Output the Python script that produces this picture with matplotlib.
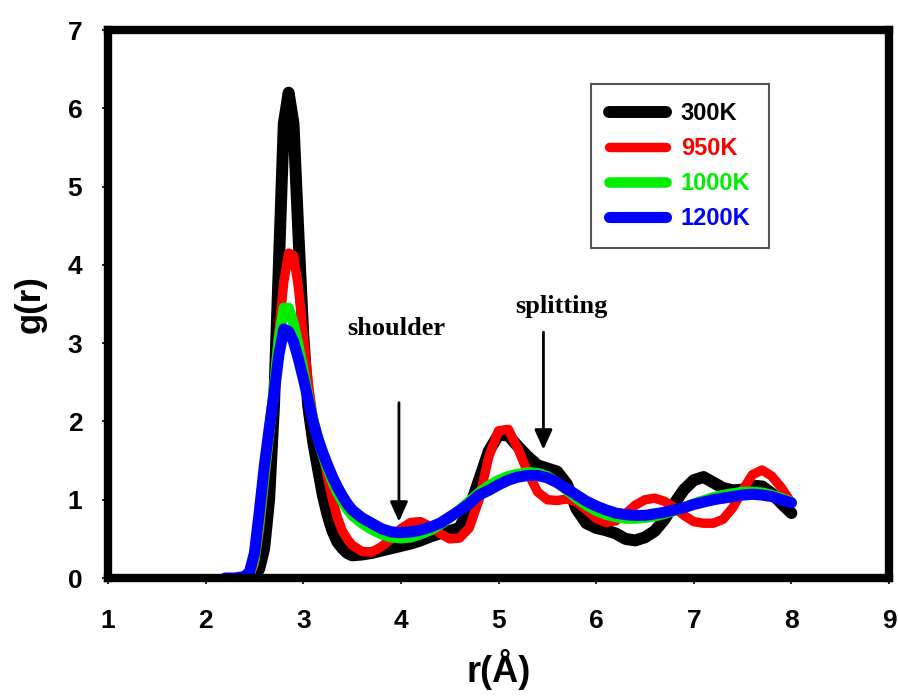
import numpy as np
import matplotlib
matplotlib.use("Agg")
from matplotlib import pyplot as plt

# radial grid (Angstrom): finer steps across the first peak
r = np.round(np.concatenate([np.arange(2.2, 2.35, 0.1),
                             np.arange(2.4, 3.47, 0.05),
                             np.arange(3.5, 8.01, 0.1)]), 2)

g_300 = [np.nan, np.nan, 0.0, 0.0, 0.02, 0.12, 0.38, 1.0, 2.2, 4.0, 5.8, 6.2,
         5.8, 4.4, 3.1, 2.2, 1.75, 1.4, 1.06, 0.8, 0.6, 0.46, 0.38, 0.32,
         0.29, 0.3, 0.32, 0.35, 0.38, 0.41, 0.44, 0.48, 0.53, 0.57, 0.6, 0.64,
         0.88, 1.25, 1.62, 1.83, 1.82, 1.68, 1.55, 1.44, 1.4, 1.36, 1.2, 0.88,
         0.7, 0.64, 0.61, 0.57, 0.5, 0.48, 0.52, 0.6, 0.75, 0.95, 1.13, 1.25,
         1.29, 1.22, 1.15, 1.12, 1.13, 1.18, 1.17, 1.08, 0.95, 0.83]

g_950 = [np.nan, 0.0, 0.0, 0.03, 0.18, 0.6, 1.2, 1.8, 2.45, 3.15, 3.78, 4.15,
         4.12, 3.72, 3.1, 2.5, 2.05, 1.8, 1.6, 1.28, 1.0, 0.77, 0.6, 0.5,
         0.42, 0.34, 0.33, 0.4, 0.5, 0.63, 0.71, 0.72, 0.66, 0.57, 0.5, 0.51,
         0.64, 1.0, 1.55, 1.88, 1.9, 1.65, 1.35, 1.1, 1.0, 0.99, 1.01, 0.97,
         0.87, 0.76, 0.71, 0.73, 0.82, 0.93, 1.0, 1.02, 0.98, 0.9, 0.8, 0.72,
         0.7, 0.7, 0.75, 0.9, 1.12, 1.32, 1.38, 1.3, 1.15, 0.96]

g_1000 = [np.nan, 0.0, 0.0, 0.05, 0.25, 0.72, 1.3, 1.85, 2.42, 3.05, 3.45, 3.45,
          3.25, 2.97, 2.65, 2.33, 2.03, 1.78, 1.57, 1.39, 1.23, 1.09, 0.98, 0.88,
          0.8, 0.7, 0.62, 0.56, 0.52, 0.51, 0.52, 0.56, 0.61, 0.68, 0.77, 0.87,
          0.98, 1.09, 1.18, 1.25, 1.3, 1.33, 1.35, 1.34, 1.3, 1.22, 1.12, 1.02,
          0.93, 0.86, 0.81, 0.78, 0.76, 0.76, 0.77, 0.79, 0.82, 0.86, 0.9, 0.95,
          0.99, 1.03, 1.06, 1.08, 1.1, 1.1, 1.09, 1.06, 1.02, 0.97]

g_1200 = [0.0, 0.0, 0.02, 0.08, 0.32, 0.85, 1.42, 1.9, 2.35, 2.85, 3.18, 3.15,
          3.02, 2.8, 2.55, 2.28, 2.0, 1.78, 1.6, 1.44, 1.29, 1.16, 1.05, 0.95,
          0.87, 0.77, 0.7, 0.63, 0.59, 0.58, 0.59, 0.61, 0.65, 0.7, 0.78, 0.86,
          0.95, 1.06, 1.12, 1.19, 1.25, 1.29, 1.31, 1.31, 1.28, 1.22, 1.14, 1.06,
          0.98, 0.92, 0.87, 0.83, 0.81, 0.8, 0.8, 0.82, 0.84, 0.87, 0.9, 0.94,
          0.97, 1.0, 1.02, 1.04, 1.06, 1.07, 1.06, 1.04, 1.0, 0.96]

labels = ["300K", "950K", "1000K", "1200K"]
colors = ["black", "#ff0000", "#00ee00", "#0000ff"]
widths = [8.6, 6.8, 7.6, 8.0]

sans = ["Liberation Sans", "DejaVu Sans"]

fig = plt.figure(figsize=(8.98, 6.97), dpi=100)
ax = fig.add_axes([0.1203, 0.1707, 0.8697, 0.7862])

for g, lab, c, w in zip([g_300, g_950, g_1000, g_1200], labels, colors, widths):
    ax.plot(r, g, color=c, lw=w, label=lab,
            solid_capstyle="round", solid_joinstyle="round")

ax.set_xlim(1, 9)
ax.set_ylim(0, 7)
ax.set_xticks(range(1, 10))
ax.set_yticks(range(0, 8))

for s in ax.spines.values():
    s.set_linewidth(6)
    s.set_color("black")

ax.tick_params(direction="out", length=4.5, width=1.2,
               labelsize=19, top=False, right=False)
ax.tick_params(axis="x", pad=18)
ax.tick_params(axis="y", pad=14)
for t in ax.get_xticklabels() + ax.get_yticklabels():
    t.set_family(sans)
    t.set_fontweight("bold")

ax.set_xlabel("r(Å)", family=sans, fontweight="bold", fontsize=26, labelpad=11)
ax.set_ylabel("g(r)", family=sans, fontweight="bold", fontsize=25, labelpad=15)

leg = ax.legend(loc="upper left", bbox_to_anchor=(591 / 898, 1 - 84 / 697),
                bbox_transform=fig.transFigure,
                prop={"family": sans, "weight": "bold", "size": 17},
                labelcolor="linecolor", handlelength=2.4, handletextpad=0.62,
                labelspacing=0.5, borderpad=0.78, borderaxespad=0,
                fancybox=False, framealpha=1)
leg.get_frame().set_edgecolor("#555555")
leg.get_frame().set_linewidth(1.5)

serif = ["Liberation Serif", "DejaVu Serif"]
ax.text(3.95, 3.1, "shoulder", family=serif, fontweight="bold", fontsize=19,
        ha="center", va="baseline")
ax.text(5.64, 3.38, "splitting", family=serif, fontweight="bold", fontsize=19,
        ha="center", va="baseline")

arrow = dict(arrowstyle="-|>,head_length=0.4,head_width=0.18", lw=2,
             color="black", mutation_scale=30, shrinkA=0, shrinkB=0)
ax.annotate("", xy=(3.98, 0.72), xytext=(3.98, 2.24), arrowprops=arrow)
ax.annotate("", xy=(5.46, 1.64), xytext=(5.46, 3.14), arrowprops=arrow)

fig.savefig("out.png", dpi=100)
